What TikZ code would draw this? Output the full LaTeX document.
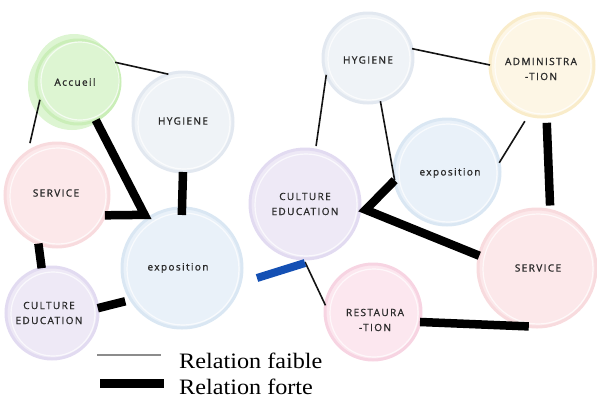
\documentclass[tikz,border=0pt]{standalone}
\usepackage{fontspec}
\usepackage{graphicx}
\setmainfont{Liberation Serif}
\newfontfamily\lab[LetterSpace=14, FakeBold=1.2]{Open Sans}
\usetikzlibrary{calc}
\definecolor{labgray}{HTML}{2A2A2A}
\definecolor{accF}{HTML}{DDF5D2}\definecolor{accR}{HTML}{CAEEB8}
\definecolor{hygF}{HTML}{EFF3F7}\definecolor{hygR}{HTML}{E2E8F0}
\definecolor{serF}{HTML}{FCE8EA}\definecolor{serR}{HTML}{F8DBDE}
\definecolor{expF}{HTML}{E9F1F9}\definecolor{expR}{HTML}{DAE7F3}
\definecolor{culF}{HTML}{EEE9F6}\definecolor{culR}{HTML}{E2DBF1}
\definecolor{admF}{HTML}{FDF6E5}\definecolor{admR}{HTML}{F9ECCA}
\definecolor{resF}{HTML}{FCE7EF}\definecolor{resR}{HTML}{F7D4E2}
\definecolor{blueL}{HTML}{1450B4}
\begin{document}
\begin{tikzpicture}[x=1pt,y=-1pt,
  bubble/.style 2 args={circle, inner sep=0pt, outer sep=0pt, minimum size=#1, fill=#2F, draw=#2R, line width=3pt},
  brush/.style={line width=1.2pt, opacity=.9},
  weak/.style={line width=1.6pt, draw=black!92},
  strong/.style={line width=8.5pt, draw=black},
  bluestrong/.style={line width=8pt, draw=blueL},
  legweak/.style={line width=1.4pt, draw=black!45},
  txt/.style={font=\lab\fontsize{10}{15}\selectfont, text=labgray, align=center, inner sep=0pt},
  legtxt/.style={font=\fontsize{22}{22}\selectfont, anchor=base west, inner sep=0pt}
]
\useasboundingbox (0,0) rectangle (597,402);
% ---------- bubbles (left) ----------
\fill[accF] (72,86) circle (44);
\fill[accF] (74,74) circle (40);
\node[bubble={84pt}{acc}] (acc) at (78,82) {};
\draw[white, brush, opacity=.7] (80,81) circle (39);
\node[bubble={100pt}{hyg}] (hygL) at (183,122) {};
\draw[white, brush, opacity=.7] (184,123) circle (46);
\node[bubble={104pt}{ser}] (serL) at (57,195) {};
\draw[white, brush, opacity=.7] (58,196) circle (48);
\node[bubble={120pt}{exp}] (expL) at (182,268) {};
\draw[white, brush, opacity=.7] (183,269) circle (56);
\node[bubble={92pt}{cul}] (culL) at (52,313) {};
\draw[white, brush, opacity=.7] (53,314) circle (42);
% ---------- bubbles (right) ----------
\node[bubble={90pt}{hyg}] (hygR) at (368,58) {};
\draw[white, brush, opacity=.7] (369,59) circle (41);
\node[bubble={104pt}{adm}] (adm) at (542,65) {};
\draw[white, brush, opacity=.7] (543,66) circle (48);
\node[bubble={106pt}{exp}] (expR) at (447,172) {};
\draw[white, brush, opacity=.7] (448,173) circle (49);
\node[bubble={110pt}{cul}] (culR) at (305,204) {};
\draw[white, brush, opacity=.7] (306,205) circle (51);
\node[bubble={118pt}{ser}] (serR) at (537,268) {};
\draw[white, brush, opacity=.7] (538,269) circle (55);
\node[bubble={96pt}{res}] (rest) at (373,312) {};
\draw[white, brush, opacity=.7] (374,313) circle (44);
% ---------- connectors (left) ----------
\draw[weak] (acc.28) -- (hygL.107);
\draw[weak, shorten >=9pt] (acc.205) -- (serL.124);
\draw[strong, line join=miter] (acc.295) -- ([shift={(-3pt,4pt)}]expL.125) -- (serL.337);
\draw[strong, shorten >=-7pt] (hygL.270) -- (expL.90);
\draw[strong] (serL.249) -- (culL.103);
\draw[strong, shorten >=6pt] (culL.6) -- (expL.212);
% ---------- connectors (right) ----------
\draw[weak] (hygR.12) -- (adm.180);
\draw[weak, shorten >=4pt] (hygR.202) -- (culR.79);
\draw[weak] (hygR.286) -- (expR.189);
\draw[strong, line join=miter] (expR.189) -- ([xshift=6pt]culR.354) -- (serR.168);
\draw[weak, shorten <=7pt] (adm.255) -- (expR.10);
\draw[strong, shorten <=6pt, shorten >=5pt] (adm.275) -- (serR.77);
\draw[weak] ([yshift=-3pt]culR.270) -- (rest.172);
\coordinate (blueend) at (257,278);
\draw[bluestrong] ([yshift=-4pt]culR.270) -- (blueend);
\draw[strong] (rest.348) -- (serR.262);
% ---------- labels ----------
\node[txt] (tacc) at ($(acc)+(-3,0)$) {Accueil};
\node[txt] (thygL) at ($(hygL)+(0,-1)$) {HYGIENE};
\node[txt] (tserL) at ($(serL)+(-1,-2)$) {SERVICE};
\node[txt] (texpL) at ($(expL)+(-4,0)$) {exposition};
\node[txt] (tculL) at ($(culL)+(-3,0)$) {CULTURE\\EDUCATION};
\node[txt] (thygR) at ($(hygR)+(0,2)$) {HYGIENE};
\node[txt] (tadm) at ($(adm)+(-1,4)$) {ADMINISTRA\\-TION};
\node[txt] (texpR) at ($(expR)+(3,1)$) {exposition};
\node[txt] (tculR) at ($(culR)+(0,0)$) {CULTURE\\EDUCATION};
\node[txt] (tserR) at ($(serR)+(1,0)$) {SERVICE};
\node[txt] (trest) at ($(rest)+(2,8)$) {RESTAURA\\-TION};
% ---------- legend ----------
\draw[legweak] (97,355) -- (161,355);
\draw[strong] (100,383.5) -- (164,383.5);
\node[legtxt] (lf) at (179,368) {\scalebox{1.1}[1]{Relation faible}};
\node[legtxt] (lF) at (179,394) {\scalebox{1.1}[1]{Relation forte}};
\end{tikzpicture}
\end{document}
